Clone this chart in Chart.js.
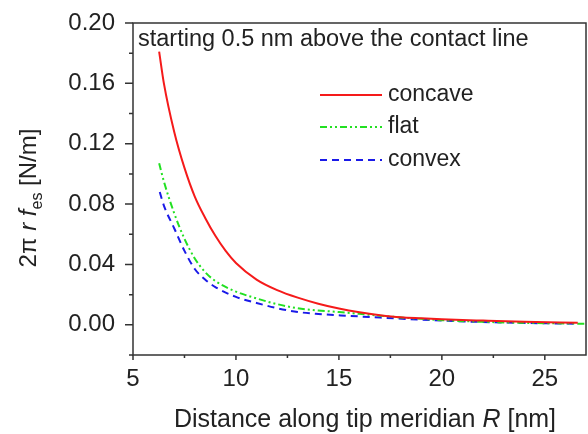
<!DOCTYPE html>
<html>
<head>
<meta charset="utf-8">
<script src="https://cdn.jsdelivr.net/npm/chart.js@4"></script>
<style>
  html, body { margin: 0; padding: 0; background: #fff; }
  #wrap { width: 588px; height: 434px; }
</style>
</head>
<body>
<div id="wrap"><canvas id="fesChart" width="588" height="434"></canvas></div>
<script>
// distance along tip meridian R [nm] and 2*pi*r*f_es [N/m]
const rConcave = [6.27, 6.5, 7.0, 7.5, 8.0, 8.5, 9.0, 9.5, 10, 11, 12, 13, 14, 15, 16, 17, 18, 19, 20, 22, 24, 26.6];
const fConcave = [0.181, 0.160, 0.128, 0.104, 0.085, 0.071, 0.059, 0.049, 0.041, 0.030, 0.023, 0.018, 0.014, 0.0108, 0.0083, 0.0064, 0.0050, 0.0043, 0.0037, 0.0028, 0.0020, 0.0013];

const rFlat = [6.27, 6.5, 7.0, 7.5, 8.0, 8.5, 9.0, 10, 11, 12, 13, 14, 15, 17, 20, 23, 27];
const fFlat = [0.107, 0.095, 0.074, 0.057, 0.044, 0.035, 0.029, 0.022, 0.0175, 0.0137, 0.011, 0.0095, 0.0085, 0.006, 0.0031, 0.0016, 0.0007];

const rConvex = [6.3, 6.5, 7.0, 7.5, 8.0, 8.5, 9.0, 10, 11, 12, 13, 14, 15.4, 17, 20, 23, 26.6];
const fConvex = [0.088, 0.079, 0.064, 0.049, 0.037, 0.030, 0.025, 0.0185, 0.0145, 0.011, 0.0085, 0.0072, 0.006, 0.0048, 0.0028, 0.0015, 0.0007];

const seriesNames = ["concave", "flat", "convex"];

const xMajor = [5, 10, 15, 20, 25];
const xMinor = [7.5, 12.5, 17.5, 22.5];
const yMajor = [0, 0.04, 0.08, 0.12, 0.16, 0.20];
const yMinor = [-0.02, 0.02, 0.06, 0.10, 0.14, 0.18];

const FONT = "'Liberation Sans', Arial, Helvetica, sans-serif";
const INK = "#222";

function pts(xs, ys) {
  return xs.map((x, i) => ({ x: x, y: ys[i] }));
}

// frame, ticks, titles, note and legend
const decor = {
  id: "decor",
  afterDraw(chart) {
    const c = chart.ctx;
    const a = chart.chartArea;
    const xs = chart.scales.x, ys = chart.scales.y;
    c.save();
    c.strokeStyle = "#333";
    c.lineWidth = 1.5;
    c.strokeRect(a.left, a.top, a.right - a.left, a.bottom - a.top);

    c.beginPath();
    xMajor.forEach(v => { const p = xs.getPixelForValue(v); c.moveTo(p, a.bottom); c.lineTo(p, a.bottom + 5); });
    xMinor.forEach(v => { const p = xs.getPixelForValue(v); c.moveTo(p, a.bottom); c.lineTo(p, a.bottom + 3); });
    yMajor.forEach(v => { const p = ys.getPixelForValue(v); c.moveTo(a.left, p); c.lineTo(a.left - 8, p); });
    yMinor.forEach(v => { const p = ys.getPixelForValue(v); c.moveTo(a.left, p); c.lineTo(a.left - 4, p); });
    c.stroke();

    c.fillStyle = INK;
    c.textBaseline = "alphabetic";

    // note in the top left corner
    c.font = "23.5px " + FONT;
    c.textAlign = "left";
    c.fillText("starting 0.5 nm above the contact line", a.left + 5, 46);

    // x title with italic R
    const xParts = [
      { t: "Distance along tip meridian ", f: "25px " + FONT },
      { t: "R", f: "italic 25px " + FONT },
      { t: " [nm]", f: "25px " + FONT }
    ];
    let w = 0;
    xParts.forEach(p => { c.font = p.f; w += c.measureText(p.t).width; });
    let x = 365 - w / 2;
    xParts.forEach(p => { c.font = p.f; c.fillText(p.t, x, 427); x += c.measureText(p.t).width; });

    // y title, rotated
    const yParts = [
      { t: "2\u03c0 ", f: "24px " + FONT, dy: 0 },
      { t: "r", f: "italic 24px " + FONT, dy: 0 },
      { t: " ", f: "24px " + FONT, dy: 0 },
      { t: "f", f: "italic 24px " + FONT, dy: 0 },
      { t: "es", f: "16px " + FONT, dy: 6 },
      { t: " [N/m]", f: "24px " + FONT, dy: 0 }
    ];
    c.save();
    c.translate(36, 198);
    c.rotate(-Math.PI / 2);
    w = 0;
    yParts.forEach(p => { c.font = p.f; w += c.measureText(p.t).width; });
    x = -w / 2;
    yParts.forEach(p => { c.font = p.f; c.fillText(p.t, x, p.dy); x += c.measureText(p.t).width; });
    c.restore();

    // legend
    const rows = [95, 127, 160];
    c.font = "23px " + FONT;
    chart.data.datasets.forEach((ds, i) => {
      c.save();
      c.strokeStyle = ds.borderColor;
      c.lineWidth = ds.borderWidth;
      c.setLineDash(ds.borderDash || []);
      c.beginPath();
      c.moveTo(320, rows[i]);
      c.lineTo(382, rows[i]);
      c.stroke();
      c.restore();
      c.textBaseline = "middle";
      c.fillText(seriesNames[i], 388, rows[i]);
    });
    c.restore();
  }
};

new Chart(document.getElementById("fesChart"), {
  type: "line",
  data: {
    datasets: [{
      label: seriesNames[0],
      data: pts(rConcave, fConcave),
      borderColor: "#f51a1a",
      borderWidth: 2,
      pointRadius: 0,
      cubicInterpolationMode: "monotone"
    }, {
      label: seriesNames[1],
      data: pts(rFlat, fFlat),
      borderColor: "#22e022",
      borderWidth: 2,
      borderDash: [7, 3, 2, 3, 2, 3],
      pointRadius: 0,
      cubicInterpolationMode: "monotone"
    }, {
      label: seriesNames[2],
      data: pts(rConvex, fConvex),
      borderColor: "#1a1ae8",
      borderWidth: 2,
      borderDash: [7, 5],
      pointRadius: 0,
      cubicInterpolationMode: "monotone"
    }]
  },
  options: {
    responsive: false,
    animation: false,
    layout: { padding: { left: 0, right: 2, top: 23, bottom: 0 } },
    plugins: { legend: { display: false }, tooltip: { enabled: false } },
    scales: {
      x: {
        type: "linear",
        min: 5,
        max: 27,
        afterBuildTicks: s => { s.ticks = xMajor.map(v => ({ value: v })); },
        afterFit: s => { s.height = 79; s.paddingLeft = 0; s.paddingRight = 0; },
        grid: { display: false, drawTicks: false },
        border: { display: false },
        ticks: {
          autoSkip: false,
          maxRotation: 0,
          padding: 10,
          color: INK,
          font: { family: FONT, size: 24 },
          callback: v => String(v)
        }
      },
      y: {
        type: "linear",
        min: -0.02,
        max: 0.20,
        afterBuildTicks: s => { s.ticks = yMajor.map(v => ({ value: v })); },
        afterFit: s => { s.width = 133; s.paddingTop = 0; s.paddingBottom = 0; },
        grid: { display: false, drawTicks: false },
        border: { display: false },
        ticks: {
          autoSkip: false,
          padding: 18,
          color: INK,
          font: { family: FONT, size: 24 },
          callback: v => v.toFixed(2)
        }
      }
    }
  },
  plugins: [decor]
});
</script>
</body>
</html>
